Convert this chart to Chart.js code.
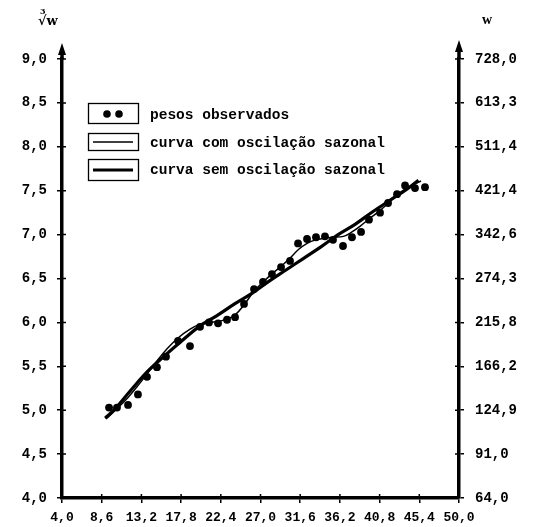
<!DOCTYPE html>
<html><head><meta charset="utf-8">
<script src="https://cdn.jsdelivr.net/npm/chart.js@4.4.0/dist/chart.umd.min.js"></script>
<style>html,body{margin:0;padding:0;background:#fff}#wrap{width:544px;height:527px}</style>
</head><body><div id="wrap"><canvas id="c" width="544" height="527"></canvas></div>
<script>
const xTicks = [4.0, 8.6, 13.2, 17.8, 22.4, 27.0, 31.6, 36.2, 40.8, 45.4, 50.0];
const xTickLabels = ['4,0','8,6','13,2','17,8','22,4','27,0','31,6','36,2','40,8','45,4','50,0'];
const yTicks = [4.0, 4.5, 5.0, 5.5, 6.0, 6.5, 7.0, 7.5, 8.0, 8.5, 9.0];
const yLeftLabels = ['4,0','4,5','5,0','5,5','6,0','6,5','7,0','7,5','8,0','8,5','9,0'];
const yRightLabels = ['64,0','91,0','124,9','166,2','215,8','274,3','342,6','421,4','511,4','613,3','728,0'];

const obsX = [9.45,10.37,11.65,12.8,13.85,15.0,16.05,17.44,18.83,19.99,21.03,22.08,23.12,24.05,25.09,26.25,27.29,28.33,29.38,30.42,31.35,32.39,33.43,34.47,35.4,36.56,37.6,38.65,39.57,40.85,41.78,42.82,43.75,44.9,46.06];
const obsY = [5.03,5.03,5.06,5.18,5.38,5.49,5.61,5.79,5.73,5.95,6.00,5.99,6.03,6.06,6.21,6.38,6.46,6.55,6.63,6.70,6.90,6.95,6.97,6.98,6.94,6.87,6.97,7.03,7.17,7.25,7.36,7.46,7.56,7.53,7.54];

const seasX = [9.1,10.4,11.6,12.8,13.9,15.0,16.0,17.4,18.8,20.0,21.0,22.1,23.1,24.0,25.1,26.2,27.3,28.3,29.4,30.4,31.4,32.4,33.4,34.5,35.4,36.6,37.6,38.6,39.6,40.8,41.8,42.8,43.8,44.9,45.6];
const seasY = [4.90,5.02,5.14,5.28,5.42,5.56,5.68,5.82,5.92,5.98,6.00,6.01,6.04,6.08,6.20,6.35,6.46,6.55,6.64,6.73,6.83,6.90,6.94,6.96,6.97,6.98,7.03,7.10,7.18,7.27,7.36,7.45,7.52,7.58,7.61];

const trendX = [9.0,10,12,14,16,18,20,22,24,26,28,30,32,34,36,38,40,42,44,45.3];
const trendY = [4.91,5.00,5.23,5.45,5.63,5.80,5.96,6.08,6.21,6.33,6.47,6.60,6.73,6.86,7.00,7.12,7.26,7.39,7.52,7.62];

const pts = (xs, ys) => xs.map((x, i) => ({x, y: ys[i]}));
const tickFont = {family: '"Liberation Mono", monospace', weight: 'bold', size: 14};

const decor = {
  id: 'decor',
  afterDraw(chart) {
    const ctx = chart.ctx;
    const xs = chart.scales.x, ys = chart.scales.y;
    const L = chart.chartArea.left, R = chart.chartArea.right, B = chart.chartArea.bottom, T = chart.chartArea.top;
    ctx.save();
    ctx.strokeStyle = '#000'; ctx.fillStyle = '#000';
    ctx.lineWidth = 1.5;
    ctx.beginPath();
    yTicks.forEach(v => {
      const p = ys.getPixelForValue(v);
      ctx.moveTo(L, p); ctx.lineTo(L + 4, p);
      ctx.moveTo(R, p); ctx.lineTo(R - 4, p);
    });
    xTicks.forEach(v => {
      const p = xs.getPixelForValue(v);
      ctx.moveTo(p, B); ctx.lineTo(p, B - 4);
    });
    ctx.stroke();
    ctx.lineWidth = 3.5;
    ctx.beginPath();
    ctx.moveTo(L, T); ctx.lineTo(L, T - 8);
    ctx.moveTo(R, T); ctx.lineTo(R, T - 10);
    ctx.stroke();
    [[L, T - 16], [R, T - 19]].forEach(([x, y]) => {
      ctx.beginPath();
      ctx.moveTo(x, y); ctx.lineTo(x - 4, y + 12); ctx.lineTo(x + 4, y + 12); ctx.closePath(); ctx.fill();
    });
    ctx.textBaseline = 'alphabetic';
    ctx.font = 'bold 8px "DejaVu Serif", serif';
    ctx.fillText('3', 40, 14);
    ctx.font = 'bold 13px "DejaVu Serif", serif';
    ctx.fillText('√w', 38, 25);
    ctx.font = 'bold 14px "Liberation Serif", serif';
    ctx.fillText('w', 482, 24);
    ctx.lineWidth = 1.3;
    ctx.strokeRect(88.5, 103.5, 50, 20);
    ctx.strokeRect(88.5, 133.5, 50, 17);
    ctx.strokeRect(88.5, 159.5, 50, 21);
    ctx.beginPath(); ctx.arc(107, 114, 3.8, 0, Math.PI * 2); ctx.fill();
    ctx.beginPath(); ctx.arc(119, 114, 3.8, 0, Math.PI * 2); ctx.fill();
    ctx.lineWidth = 1.3;
    ctx.beginPath(); ctx.moveTo(93, 142); ctx.lineTo(133, 142); ctx.stroke();
    ctx.lineWidth = 3;
    ctx.beginPath(); ctx.moveTo(93, 170); ctx.lineTo(133, 170); ctx.stroke();
    ctx.font = 'bold 14.5px "Liberation Mono", monospace';
    ctx.textBaseline = 'middle';
    ctx.fillText('pesos observados', 150, 115);
    ctx.fillText('curva com oscilação sazonal', 150, 143);
    ctx.fillText('curva sem oscilação sazonal', 150, 170);
    ctx.restore();
  }
};

new Chart(document.getElementById('c'), {
  type: 'scatter',
  data: {
    datasets: [
      {label: 'pesos observados', data: pts(obsX, obsY), pointRadius: 3.9, pointBackgroundColor: '#000', pointBorderWidth: 0, showLine: false},
      {label: 'curva com oscilação sazonal', data: pts(seasX, seasY), showLine: true, borderColor: '#000', borderWidth: 1.5, pointRadius: 0, tension: 0.4},
      {label: 'curva sem oscilação sazonal', data: pts(trendX, trendY), showLine: true, borderColor: '#000', borderWidth: 3.2, pointRadius: 0, tension: 0.4}
    ]
  },
  options: {
    responsive: false, animation: false,
    layout: {padding: {top: 59, left: 0, right: 0, bottom: 0}},
    plugins: {legend: {display: false}, tooltip: {enabled: false}},
    scales: {
      x: {
        type: 'linear', min: 4, max: 50,
        afterBuildTicks: s => { s.ticks = xTicks.map(v => ({value: v})); },
        afterFit: s => { s.height = 29; },
        ticks: {callback: (v, i) => xTickLabels[i], font: {family: '"Liberation Mono", monospace', weight: 'bold', size: 13}, color: '#000', padding: 7, maxRotation: 0, autoSkip: false},
        grid: {display: true, drawOnChartArea: false, tickLength: 5, lineWidth: 1.5, color: '#000'},
        border: {display: true, width: 3.5, color: '#000'}
      },
      y: {
        type: 'linear', position: 'left', min: 4, max: 9,
        afterBuildTicks: s => { s.ticks = yTicks.map(v => ({value: v})); },
        afterFit: s => { s.width = 62; },
        ticks: {callback: (v, i) => yLeftLabels[i], font: tickFont, color: '#000', padding: 10, autoSkip: false},
        grid: {display: true, drawOnChartArea: false, tickLength: 5, lineWidth: 1.5, color: '#000'},
        border: {display: true, width: 3.5, color: '#000'}
      },
      y2: {
        type: 'linear', position: 'right', min: 4, max: 9, display: true,
        afterBuildTicks: s => { s.ticks = yTicks.map(v => ({value: v})); },
        afterFit: s => { s.width = 85; },
        ticks: {callback: (v, i) => yRightLabels[i], font: tickFont, color: '#000', padding: 11, autoSkip: false},
        grid: {display: true, drawOnChartArea: false, tickLength: 5, lineWidth: 1.5, color: '#000'},
        border: {display: true, width: 3.5, color: '#000'}
      }
    }
  },
  plugins: [decor]
});
</script></body></html>
